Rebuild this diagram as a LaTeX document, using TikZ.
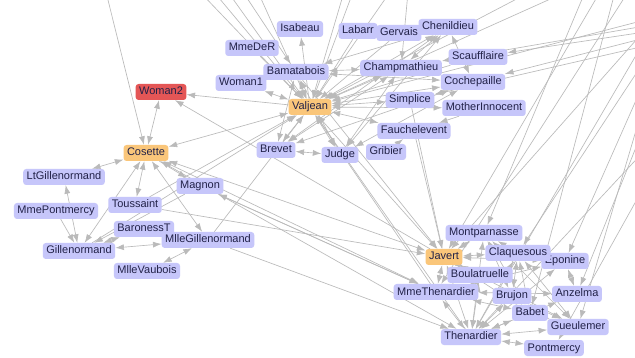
\documentclass[tikz,border=0pt]{standalone}
\usepackage{fontspec}
\setmainfont{Liberation Sans}
\usetikzlibrary{arrows.meta,backgrounds}
\definecolor{lav}{RGB}{198,198,250}
\definecolor{orng}{RGB}{250,198,122}
\definecolor{redn}{RGB}{228,86,86}
\definecolor{ink}{RGB}{34,34,72}
\definecolor{edg}{RGB}{186,186,186}
\tikzset{
  nd/.style={fill=lav, rounded corners=3pt, text=ink, font=\fontsize{11}{13}\selectfont,
    inner xsep=3.5pt, inner ysep=2.5pt, text height=8.5pt, text depth=2.5pt},
  hub/.style={nd, fill=orng},
  hot/.style={nd, fill=redn},
  ed/.style={draw=edg, line width=0.65pt, -{Latex[length=8.5pt,width=6pt]}},
  bd/.style={draw=edg, line width=0.65pt, {Latex[length=8.5pt,width=6pt]}-{Latex[length=8.5pt,width=6pt]}},
}
\begin{document}
\begin{tikzpicture}[x=1pt,y=-1pt]
\useasboundingbox (0,0) rectangle (635,358);
\clip (0,0) rectangle (635,358);
% nodes
\node[nd] (Isabeau) at (300,29) {Isabeau};
\node[nd] (MmeDeR) at (252,48) {MmeDeR};
\node[nd] (Labarr) at (358,31) {Labarr};
\node[nd] (Gervais) at (399,33) {Gervais};
\node[nd] (Chenildieu) at (448,27) {Chenildieu};
\node[nd] (Scaufflaire) at (478,57) {Scaufflaire};
\node[nd] (Bamatabois) at (296,72) {Bamatabois};
\node[nd] (Champmathieu) at (401,68) {Champmathieu};
\node[nd] (Cochepaille) at (473,82) {Cochepaille};
\node[nd] (Woman1) at (241,83) {Woman1};
\node[hot] (Woman2) at (161,92) {Woman2};
\node[hub] (Valjean) at (310,107) {Valjean};
\node[nd] (Simplice) at (410,100) {Simplice};
\node[nd] (MotherInnocent) at (484,108) {MotherInnocent};
\node[nd] (Fauchelevent) at (414,131) {Fauchelevent};
\node[nd] (Gribier) at (386,152) {Gribier};
\node[nd] (Judge) at (340,155) {Judge};
\node[nd] (Brevet) at (276,150) {Brevet};
\node[hub] (Cosette) at (146,153) {Cosette};
\node[nd] (LtGillenormand) at (64,177) {LtGillenormand};
\node[nd] (Magnon) at (200,186) {Magnon};
\node[nd] (MmePontmercy) at (56,211) {MmePontmercy};
\node[nd] (Toussaint) at (135,205) {Toussaint};
\node[nd] (BaronessT) at (144,229) {BaronessT};
\node[nd] (MlleGillenormand) at (208,240) {MlleGillenormand};
\node[nd] (Gillenormand) at (79,251) {Gillenormand};
\node[nd] (MlleVaubois) at (147,271) {MlleVaubois};
\node[nd] (Montparnasse) at (484,233) {Montparnasse};
\node[hub] (Javert) at (444,257) {Javert};
\node[nd] (Eponine) at (565,261) {Eponine};
\node[nd] (Claquesous) at (518,253) {Claquesous};
\node[nd] (Boulatruelle) at (480,275) {Boulatruelle};
\node[nd] (MmeThenardier) at (436,292) {MmeThenardier};
\node[nd] (Brujon) at (512,296) {Brujon};
\node[nd] (Anzelma) at (577,294) {Anzelma};
\node[nd] (Babet) at (530,313) {Babet};
\node[nd] (Gueulemer) at (578,327) {Gueulemer};
\node[nd] (Thenardier) at (471,337) {Thenardier};
\node[nd] (Pontmercy) at (554,348) {Pontmercy};
% free ends outside the frame
\coordinate (f1) at (106,-8);
\coordinate (f2) at (200,-8);
\coordinate (f3) at (214,-8);
\coordinate (f4) at (228,-8);
\coordinate (f5) at (243,-8);
\coordinate (f6) at (258,-8);
\coordinate (f7) at (344,-8);
\coordinate (f8) at (353,-8);
\coordinate (f9) at (390,-8);
\coordinate (f10) at (408,-8);
\coordinate (f11) at (530,-8);
\coordinate (f12) at (566,-8);
\coordinate (t1) at (585,-8);
\coordinate (t2) at (600,-8);
\coordinate (t3) at (615,-8);
\coordinate (t4) at (628,-8);
\coordinate (r1) at (645,20);
\coordinate (r2) at (645,26);
\coordinate (r3) at (645,32);
\coordinate (r4) at (645,38);
\coordinate (r5) at (645,46);
\coordinate (r6) at (645,30);
\coordinate (r7) at (645,40);
\coordinate (r8) at (645,60);
\coordinate (r9) at (645,80);
\coordinate (r10) at (645,100);
\coordinate (r11) at (645,125);
\coordinate (r12) at (645,150);
\coordinate (r13) at (645,185);
\begin{pgfonlayer}{background}
\fill[white] (0,0) rectangle (635,358);
\foreach \a/\b in {Valjean/Woman2, Valjean/Isabeau, MmeDeR/Valjean, Labarr/Valjean,
  Gervais/Valjean, Scaufflaire/Valjean, Gribier/Fauchelevent, Thenardier/Valjean,
  MmeThenardier/Valjean, Toussaint/Valjean, Toussaint/Javert, Gillenormand/Valjean,
  MlleGillenormand/Valjean, Javert/Woman2, MmePontmercy/Gillenormand, Magnon/Gillenormand,
  MmeThenardier/Magnon, Fauchelevent/Javert, Simplice/Javert, Bamatabois/Javert,
  MotherInnocent/Fauchelevent, MlleGillenormand/Thenardier, Cosette/Magnon,
  f1/Cosette, f2/Valjean, f3/Valjean, f4/Valjean, f5/Bamatabois, f6/Valjean,
  f7/Valjean, f8/Valjean, f9/Valjean, f10/Champmathieu, f11/Valjean, f12/Valjean,
  t1/Montparnasse, t2/Javert, t3/Babet, t4/MmeThenardier,
  r1/Valjean, r2/Champmathieu, r3/Scaufflaire, r4/Cochepaille, r5/Simplice,
  r6/Javert, r7/Thenardier, r8/Claquesous, r9/Eponine, r10/Gueulemer,
  r11/Anzelma, r12/Thenardier, r13/Pontmercy}
  \draw[ed] (\a) -- (\b);
\foreach \a/\b in {Woman2/Cosette, Valjean/Cosette, Valjean/Woman1, Valjean/Chenildieu,
  Valjean/Bamatabois, Valjean/Champmathieu, Valjean/Cochepaille, Valjean/Simplice,
  Valjean/MotherInnocent, Valjean/Fauchelevent, Valjean/Judge, Valjean/Brevet,
  Valjean/Javert, Cosette/Toussaint, Cosette/Gillenormand, Cosette/MlleGillenormand,
  Cosette/LtGillenormand, Gillenormand/MlleGillenormand, Gillenormand/LtGillenormand,
  Gillenormand/BaronessT, MlleGillenormand/MlleVaubois, Cosette/Thenardier,
  Cosette/MmeThenardier, Cosette/Javert, Bamatabois/Judge, Bamatabois/Champmathieu,
  Bamatabois/Brevet, Bamatabois/Chenildieu, Bamatabois/Cochepaille, Judge/Champmathieu,
  Judge/Brevet, Judge/Chenildieu, Judge/Cochepaille, Champmathieu/Chenildieu,
  Champmathieu/Cochepaille, Champmathieu/Brevet, Brevet/Chenildieu, Brevet/Cochepaille,
  Chenildieu/Cochepaille, Javert/Thenardier, Javert/MmeThenardier, Javert/Claquesous,
  Javert/Montparnasse, Javert/Babet, Javert/Gueulemer, Javert/Eponine, Javert/Boulatruelle,
  Thenardier/MmeThenardier, Thenardier/Babet, Thenardier/Gueulemer, Thenardier/Claquesous,
  Thenardier/Montparnasse, Thenardier/Brujon, Thenardier/Eponine, Thenardier/Anzelma,
  Thenardier/Pontmercy, Thenardier/Boulatruelle, MmeThenardier/Anzelma,
  MmeThenardier/Eponine, MmeThenardier/Babet, Babet/Gueulemer, Babet/Claquesous,
  Babet/Brujon, Babet/Montparnasse, Gueulemer/Claquesous, Gueulemer/Brujon,
  Gueulemer/Montparnasse, Claquesous/Montparnasse, Brujon/Claquesous,
  Brujon/Montparnasse, Eponine/Anzelma, Magnon/MmeThenardier}
  \draw[bd] (\a) -- (\b);
\end{pgfonlayer}
\end{tikzpicture}
\end{document}
